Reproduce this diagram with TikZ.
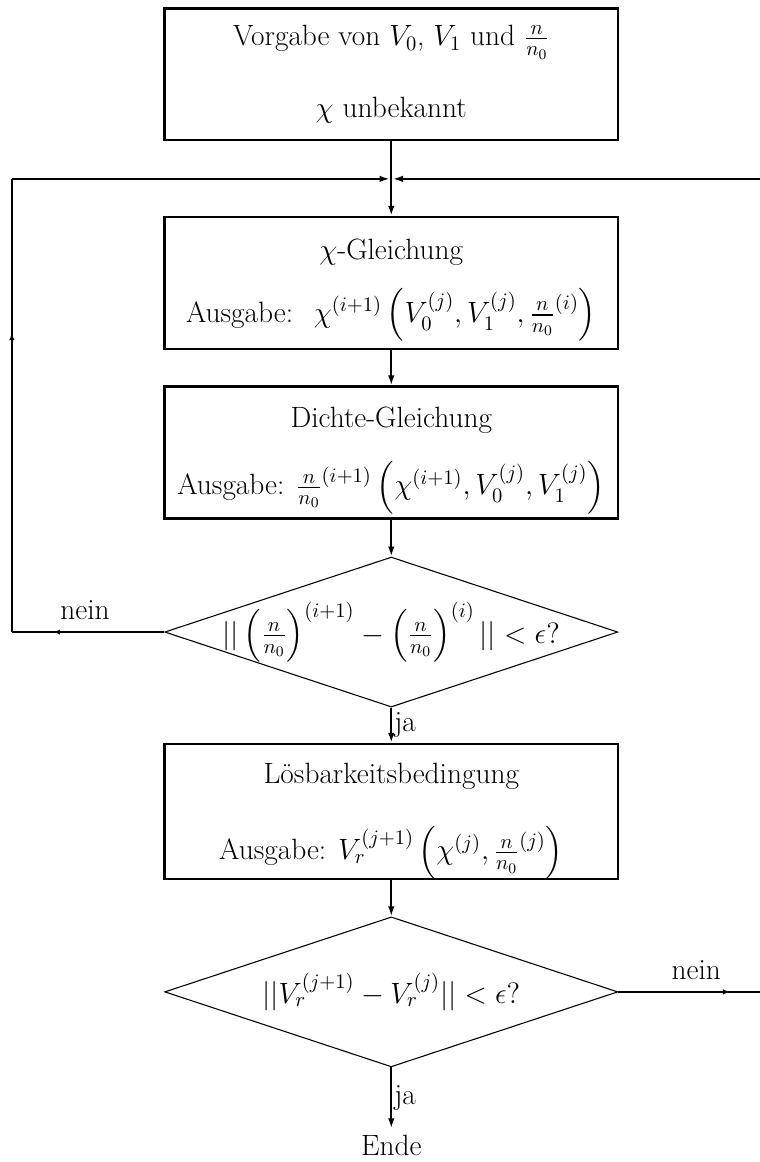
\RequirePackage{fix-cm}
\documentclass[tikz,border=0pt]{standalone}
\usepackage{amsmath,amssymb}
\usepackage{tikz}
\usetikzlibrary{arrows.meta, positioning, shapes.geometric, decorations.markings}

\begin{document}
\begin{tikzpicture}[>={Latex[length=5.5pt,width=3.6pt]},
		font=\fontsize{16.2}{19.5}\selectfont,
		box/.style={draw, line width=1.4pt, inner ysep=0pt, minimum width=8.79cm, minimum height=2.56cm, align=center},
		decision/.style={draw, diamond, line width=0.6pt, inner sep=0pt, shape aspect=3, minimum width=8.79cm, minimum height=2.91cm},
		flow/.style={line width=1.3pt},
		loop/.style={line width=0.9pt},
		midarrow/.style={postaction={decorate}, decoration={markings, mark=at position #1 with {\arrow{Latex[length=4pt,width=3pt]}}}}]
	\useasboundingbox (0,0) rectangle (14.74,-22.54);
	
	\coordinate (LoopLeftLow) at (0.23,-12.26);
	\coordinate (LoopLeftHigh) at (0.23,-3.47);
	\coordinate (Merge) at (7.59,-3.47);
	\coordinate (LoopRightHigh) at (14.74,-3.47);
	\coordinate (LoopRightLow) at (14.74,-19.24);
	
	\node[box] (Vorgabe) at (7.59,-1.44) {Vorgabe von $V_0$, $V_1$ und $\frac{n}{n_0}$\\[20pt] $\chi$ unbekannt};
	\node[box] (ChiGl) at (7.59,-5.49) {\rule{0pt}{19pt}$\chi$-Gleichung\\[12pt] Ausgabe: \ $\chi^{(i+1)}\left(V_0^{(j)}, V_1^{(j)}, \frac{n}{n_0}^{(i)}\right)$};
	\node[box] (DichteGl) at (7.59,-8.78) {\rule{0pt}{20pt}Dichte-Gleichung\\[14pt] Ausgabe: $\frac{n}{n_0}^{(i+1)}\left(\chi^{(i+1)}, V_0^{(j)}, V_1^{(j)}\right)$};
	\node[decision, label=center:{$||\left(\frac{n}{n_0}\right)^{(i+1)} - \left(\frac{n}{n_0}\right)^{(i)}||<\epsilon?$}] (TestN) at (7.59,-12.26) {};
	\node[box] (Loesbar) at (7.59,-15.74) {\rule{0pt}{22pt}L\"osbarkeitsbedingung\\[19pt] Ausgabe: $V_r^{(j+1)}\left(\chi^{(j)}, \frac{n}{n_0}^{(j)}\right)$};
	\node[decision, label=center:{$||V_r^{(j+1)} - V_r^{(j)}||<\epsilon?$}] (TestV) at (7.59,-19.24) {};
	\node (Ende) at (7.59,-22.21) {Ende};
	
	% main flow
	\draw[->, flow] (Vorgabe) -- (ChiGl);
	\draw[->, flow] (ChiGl) -- (DichteGl);
	\draw[->, flow] (DichteGl) -- (TestN);
	\draw[->, flow] (TestN) -- node[right, inner sep=1pt] {ja} (Loesbar);
	\draw[->, flow] (Loesbar) -- (TestV);
	\draw[->, flow] (TestV) -- node[right, inner sep=1pt] {ja} (Ende);
	
	% back loops
	\draw[loop, midarrow=0.73] (TestN.west) -- node[above, pos=0.52, yshift=3pt] {nein} (LoopLeftLow);
	\draw[loop, midarrow=0.66] (LoopLeftLow) -- (LoopLeftHigh);
	\draw[->, loop, shorten >=1pt] (LoopLeftHigh) -- (Merge);
	\draw[loop, midarrow=0.79] (TestV.east) -- node[above, pos=0.55, yshift=3pt] {nein} (LoopRightLow);
	\draw[->, loop, shorten >=1pt] (LoopRightHigh) -- (Merge);
\end{tikzpicture}
\end{document}
